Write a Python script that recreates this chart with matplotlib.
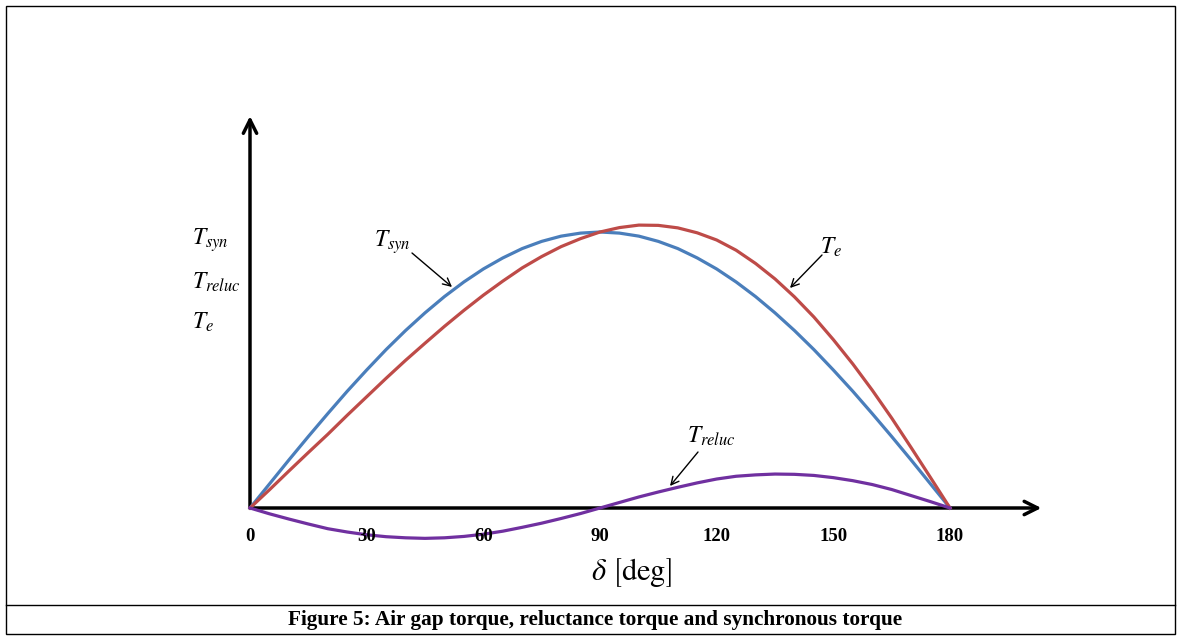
import matplotlib
matplotlib.use("Agg")
import matplotlib.pyplot as plt
from matplotlib.patches import Rectangle
from matplotlib.lines import Line2D

plt.rcParams['mathtext.fontset'] = 'stix'
plt.rcParams['font.family'] = ['Liberation Serif', 'DejaVu Serif']

# data (delta in degrees, torque normalised to T_syn peak)
delta = [0, 5, 10, 15, 20, 25, 30, 35, 40, 45, 50, 55, 60, 65, 70, 75, 80, 85, 90,
         95, 100, 105, 110, 115, 120, 125, 130, 135, 140, 145, 150, 155, 160, 165, 170, 175, 180]
t_syn = [0, 0.087, 0.174, 0.259, 0.342, 0.423, 0.500, 0.574, 0.643, 0.707, 0.766, 0.819,
         0.866, 0.906, 0.940, 0.966, 0.985, 0.996, 1.000, 0.996, 0.985, 0.966, 0.940, 0.906,
         0.866, 0.819, 0.766, 0.707, 0.643, 0.574, 0.500, 0.423, 0.342, 0.259, 0.174, 0.087, 0]
t_reluc = [0, -0.021, -0.040, -0.058, -0.075, -0.087, -0.097, -0.104, -0.108, -0.110, -0.108,
           -0.103, -0.095, -0.084, -0.070, -0.055, -0.038, -0.020, 0, 0.020, 0.040, 0.058,
           0.075, 0.091, 0.105, 0.115, 0.120, 0.123, 0.122, 0.118, 0.110, 0.099, 0.085,
           0.067, 0.045, 0.023, 0]
t_e = [0, 0.066, 0.134, 0.201, 0.267, 0.336, 0.403, 0.470, 0.535, 0.597, 0.658, 0.716,
       0.771, 0.822, 0.870, 0.911, 0.947, 0.976, 1.000, 1.016, 1.025, 1.024, 1.015, 0.997,
       0.971, 0.934, 0.886, 0.830, 0.765, 0.692, 0.610, 0.522, 0.427, 0.326, 0.219, 0.110, 0]
xticks = [0, 30, 60, 90, 120, 150, 180]

W, H = 1181, 637
fig = plt.figure(figsize=(W / 100, H / 100), dpi=100)

# border and caption box
fig.add_artist(Rectangle((6 / W, 1 - 634 / H), (1175 - 6) / W, (634 - 6) / H,
                         transform=fig.transFigure, fill=False, lw=1.0, ec='black'))
fig.add_artist(Line2D([6 / W, 1175 / W], [1 - 605 / H, 1 - 605 / H],
                      transform=fig.transFigure, lw=1.0, color='black'))
fig.text(595 / W, 1 - 620 / H, 'Figure 5: Air gap torque, reluctance torque and synchronous torque',
         ha='center', va='center', fontsize=15.3, fontweight='bold')

# axes: x 0..180 -> px 250..950 ; y 0..1 -> px 508..232
x0, x1, y0, y1 = 250, 950, 508, 232
ax = fig.add_axes([x0 / W, 1 - y0 / H, (x1 - x0) / W, (y0 - y1) / H])
ax.set_xlim(0, 180)
ax.set_ylim(0, 1)
ax.axis('off')

ax.plot(delta, t_syn, color='#4A7EBB', lw=2.3, clip_on=False, zorder=3)
ax.plot(delta, t_e, color='#BE4B48', lw=2.3, clip_on=False, zorder=3)
ax.plot(delta, t_reluc, color='#7030A0', lw=2.3, clip_on=False, zorder=3)

# axis arrows
ax.annotate('', xy=(203.5, 0), xytext=(0, 0), annotation_clip=False,
            arrowprops=dict(arrowstyle='->', lw=2.5, color='black', mutation_scale=24,
                            shrinkA=0, shrinkB=0), zorder=2)
ax.annotate('', xy=(0, 1.42), xytext=(0, 0), annotation_clip=False,
            arrowprops=dict(arrowstyle='->', lw=2.5, color='black', mutation_scale=24,
                            shrinkA=0, shrinkB=0), zorder=2)

for xt in xticks:
    ax.text(xt, -0.105, str(xt), ha='center', va='center', fontsize=13.5, fontweight='bold')

ax.text(98, -0.235, r'$\delta\ \left[\mathrm{deg}\right]$', ha='center', va='center', fontsize=22)

# left labels
for lbl, py in [(r'$T_{syn}$', 240), (r'$T_{reluc}$', 282), (r'$T_{e}$', 322)]:
    fig.text(192 / W, 1 - py / H, lbl, ha='left', va='center', fontsize=17)

def px(xp, yp):
    return ((xp - x0) / (x1 - x0) * 180, (y0 - yp) / (y0 - y1))

ap = dict(arrowstyle='->', lw=1.0, color='black', mutation_scale=14, shrinkA=0, shrinkB=0)
ax.annotate('', xy=px(452, 287), xytext=px(412, 253), arrowprops=ap, annotation_clip=False)
ax.text(*px(374, 242), r'$T_{syn}$', ha='left', va='center', fontsize=17)
ax.annotate('', xy=px(790, 288), xytext=px(822, 255), arrowprops=ap, annotation_clip=False)
ax.text(*px(820, 247), r'$T_{e}$', ha='left', va='center', fontsize=17)
ax.annotate('', xy=px(670, 486), xytext=px(698, 452), arrowprops=ap, annotation_clip=False)
ax.text(*px(687, 436), r'$T_{reluc}$', ha='left', va='center', fontsize=17)

fig.savefig('out.png', dpi=100)
